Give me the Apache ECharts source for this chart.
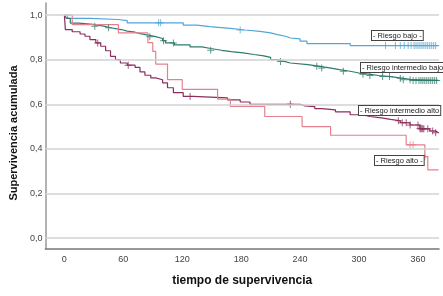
<!DOCTYPE html>
<html>
<head>
<meta charset="utf-8">
<script src="https://cdn.jsdelivr.net/npm/echarts@6/dist/echarts.min.js"></script>
<style>
html, body { margin: 0; padding: 0; background: #fff; }
#chart { width: 443px; height: 296px; }
</style>
</head>
<body>
<div id="chart"></div>
<script>
// ticks
var xTicks = [0, 60, 120, 180, 240, 300, 360];
var yTicks = [0, 0.2, 0.4, 0.6, 0.8, 1.0];

// Kaplan-Meier steps [tiempo, supervivencia]
var bajo = [[0,1],[3,0.985],[26,0.98],[55,0.975],[64,0.965],[121,0.955],[135,0.948],[148,0.94],
  [169,0.933],[184,0.927],[199,0.92],[210,0.912],[217,0.905],[225,0.897],[230,0.893],[240,0.883],
  [247,0.872],[291,0.863],[381,0.863]];
var intBajo = [[0,1],[2,0.985],[6,0.964],[15,0.958],[29,0.95],[40,0.943],[47,0.935],[58,0.928],
  [64,0.923],[72,0.917],[77,0.91],[85,0.903],[93,0.895],[100,0.885],[103,0.875],[112,0.866],
  [128,0.857],[140,0.85],[149,0.842],[160,0.836],[170,0.83],[182,0.823],[193,0.817],[203,0.81],
  [210,0.8],[217,0.792],[224,0.785],[230,0.778],[248,0.77],[260,0.763],[270,0.755],[280,0.748],
  [291,0.74],[300,0.735],[310,0.729],[320,0.724],[332,0.716],[345,0.71],[355,0.707],[381,0.707]];
var intAlto = [[0,1],[1,0.935],[8,0.925],[16,0.915],[21,0.905],[26,0.89],[32,0.875],[37,0.86],
  [42,0.84],[47,0.815],[52,0.8],[57,0.785],[64,0.775],[72,0.765],[77,0.745],[82,0.73],[88,0.718],
  [93,0.71],[100,0.696],[105,0.674],[111,0.652],[121,0.635],[131,0.629],[166,0.62],[179,0.61],
  [189,0.6],[240,0.593],[245,0.589],[255,0.58],[262,0.575],[276,0.566],[291,0.553],[303,0.545],
  [311,0.539],[323,0.532],[332,0.526],[342,0.517],[352,0.507],[362,0.49],[372,0.48],[378,0.472],
  [381,0.472]];
var alto = [[0,1],[8,0.957],[55,0.92],[85,0.876],[90,0.837],[93,0.78],[105,0.71],[120,0.667],
  [156,0.623],[169,0.59],[204,0.545],[242,0.5],[271,0.461],[348,0.418],[367,0.365],[370,0.306],
  [381,0.306]];

// censored times (+)
var cBajo = [96, 98, 179, 327, 337, 342, 346, 350, 353, 356, 358, 360, 362, 364, 366, 368, 370, 372, 374, 376, 378];
var cIntBajo = [31, 45, 87, 101, 111, 149, 220, 257, 262, 284, 304, 311, 324, 331, 342, 345, 352, 355,
  358, 361, 363, 365, 367, 369, 371, 373, 375, 377, 379];
var cIntAlto = [34, 65, 128, 230, 340, 344, 348, 352, 360, 362, 363, 364, 365, 366, 370, 375, 378];
var cAlto = [352, 355, 367];

var names = ['Riesgo bajo', 'Riesgo intermedio bajo', 'Riesgo intermedio alto', 'Riesgo alto'];
var colors = ['#52a6d9', '#2f7c6c', '#8c2d5d', '#e6808e'];

function survAt(steps, t) {
  var s = steps[0][1];
  for (var i = 0; i < steps.length; i++) {
    if (steps[i][0] <= t) s = steps[i][1];
  }
  return s;
}

var plus = 'path://M-0.14,-1H0.14V-0.14H1V0.14H0.14V1H-0.14V0.14H-1V-0.14H-0.14Z';
var curves = [bajo, intBajo, intAlto, alto];
var censors = [cBajo, cIntBajo, cIntAlto, cAlto];

var series = [{
  type: 'line',
  data: [],
  silent: true,
  markLine: {
    silent: true,
    symbol: 'none',
    label: { show: false },
    lineStyle: { color: '#d2d2d2', width: 1.5, type: 'solid' },
    data: yTicks.map(function (v) { return { yAxis: v }; })
  }
}];
curves.forEach(function (c, i) {
  series.push({
    name: names[i],
    type: 'line',
    step: 'end',
    data: c,
    showSymbol: false,
    lineStyle: { color: colors[i], width: 1.2 },
    z: 3
  });
  series.push({
    name: names[i] + ' censurado',
    type: 'scatter',
    data: censors[i].map(function (t) { return [t, survAt(c, t)]; }),
    symbol: plus,
    symbolSize: 7,
    itemStyle: { color: colors[i] },
    z: 4
  });
});

var labelFont = { fontFamily: 'Liberation Sans', fontSize: 7.5, fill: '#222',
  backgroundColor: '#fff', borderColor: '#444', borderWidth: 1, padding: [1, 1, 0, 1] };
function box(text, x, y) {
  return { type: 'text', left: x, top: y, z: 10,
    style: Object.assign({ text: text }, labelFont) };
}

var chart = echarts.init(document.getElementById('chart'));
chart.setOption({
  animation: false,
  grid: { left: 45, right: 4, top: 3, bottom: 47 },
  xAxis: {
    type: 'value',
    min: -19.3,
    max: 381.4,
    name: 'tiempo de supervivencia',
    nameLocation: 'middle',
    nameGap: 26,
    nameTextStyle: { fontFamily: 'Liberation Sans', fontSize: 12, fontWeight: 'bold', color: '#111' },
    axisLine: { onZero: false, lineStyle: { color: '#777', width: 1.5 } },
    axisTick: { show: false },
    splitLine: { show: false },
    axisLabel: { customValues: xTicks, fontFamily: 'Liberation Sans', fontSize: 9, color: '#444', margin: 6 }
  },
  yAxis: {
    type: 'value',
    min: -0.049,
    max: 1.054,
    name: 'Supervivencia acumulada',
    nameLocation: 'middle',
    nameGap: 19,
    nameTextStyle: { fontFamily: 'Liberation Sans', fontSize: 11, fontWeight: 'bold', color: '#111',
      padding: [0, 14, 0, 0] },
    axisLine: { show: true, onZero: false, lineStyle: { color: '#999', width: 1.5 } },
    axisTick: { show: false },
    splitLine: { show: false },
    axisLabel: {
      customValues: yTicks,
      fontFamily: 'Liberation Sans', fontSize: 9, color: '#444', margin: 3,
      formatter: function (v) { return v.toFixed(1).replace('.', ','); }
    }
  },
  graphic: [
    box('- Riesgo bajo -', 371, 30),
    box('- Riesgo intermedio bajo', 360, 62),
    box('- Riesgo intermedio alto', 358, 105),
    box('- Riesgo alto -', 374, 155)
  ],
  series: series
});
</script>
</body>
</html>
